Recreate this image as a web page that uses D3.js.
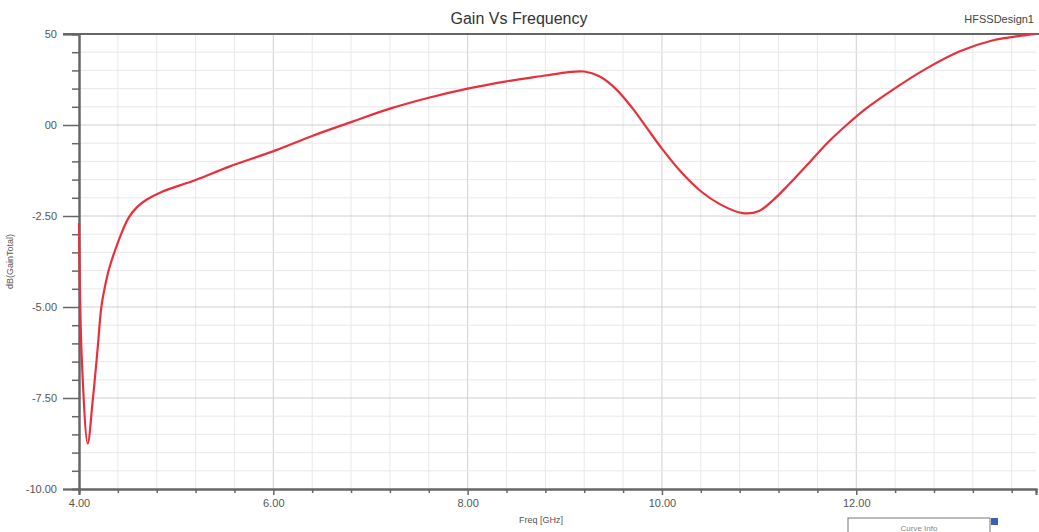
<!DOCTYPE html>
<html>
<head>
<meta charset="utf-8">
<script src="https://cdn.jsdelivr.net/npm/d3@7"></script>
<style>
  body { margin: 0; background: #fff; }
  text { font-family: "Liberation Sans", Arial, sans-serif; }
</style>
</head>
<body>
<div id="vis1"></div>
<script>
const width = 1039;
const height = 532;
const plotLeft = 79, plotRight = 1036, plotTop = 34, plotBottom = 489;

// curve values
const freq = [4.0, 4.03, 4.09, 4.14, 4.19, 4.23, 4.27, 4.31, 4.41, 4.51, 4.6, 4.69, 4.85, 5.2, 5.54, 6.03, 6.4, 6.8, 7.2, 7.6, 8.0, 8.4, 8.8, 9.0, 9.2, 9.36, 9.53, 9.7, 9.85, 10.0, 10.2, 10.4, 10.6, 10.83, 11.0, 11.15, 11.3, 11.5, 11.7, 11.9, 12.1, 12.37, 12.72, 13.06, 13.4, 13.75, 13.85];
const gain = [-2.7, -6.5, -8.75, -7.6, -6.2, -5.0, -4.4, -3.95, -3.16, -2.55, -2.25, -2.06, -1.84, -1.51, -1.15, -0.69, -0.3, 0.08, 0.45, 0.75, 1.0, 1.2, 1.36, 1.44, 1.47, 1.33, 0.98, 0.45, -0.1, -0.65, -1.3, -1.82, -2.18, -2.42, -2.36, -2.05, -1.65, -1.08, -0.5, 0.0, 0.45, 0.96, 1.55, 2.02, 2.32, 2.47, 2.5];

const xTicks = [4, 6, 8, 10, 12];
const xTickLabels = ["4.00", "6.00", "8.00", "10.00", "12.00"];
const yTicks = [2.5, 0, -2.5, -5, -7.5, -10];
const yTickLabels = ["50", "00", "-2.50", "-5.00", "-7.50", "-10.00"];

let svg = d3.select("#vis1")
    .append("svg")
    .attr("width", width)
    .attr("height", height)

//scales
let xScale = d3.scaleLinear().domain([4, 13.85]).range([plotLeft, plotRight]);
let yScale = d3.scaleLinear().domain([-10, 2.5]).range([plotBottom, plotTop]);

let xMinor = d3.range(4.4, 13.85, 0.4);
let yMinor = d3.range(-9.5, 2.5, 0.5);
const isMajorX = d => Math.abs(d - Math.round(d)) < 0.01 && Math.round(d) % 2 === 0;
const isMajorY = d => Math.abs(d % 2.5) < 0.01;

//grid
svg.append("g").selectAll("line")
    .data(xMinor)
    .enter().append("line")
    .attr("x1", d => xScale(d)).attr("x2", d => xScale(d))
    .attr("y1", plotTop).attr("y2", plotBottom)
    .attr("stroke", d => isMajorX(d) ? "#cfcfcf" : "#e8e8e8")
    .attr("stroke-width", 1);

svg.append("g").selectAll("line")
    .data(yMinor)
    .enter().append("line")
    .attr("x1", plotLeft).attr("x2", plotRight)
    .attr("y1", d => yScale(d)).attr("y2", d => yScale(d))
    .attr("stroke", d => isMajorY(d) ? "#cfcfcf" : "#e8e8e8")
    .attr("stroke-width", 1);

//top border
svg.append("line")
    .attr("x1", plotLeft - 16).attr("x2", width)
    .attr("y1", plotTop).attr("y2", plotTop)
    .attr("stroke", "#666").attr("stroke-width", 2);

//Y axis
let yAxis = svg.append("g")
    .attr("transform", "translate(" + plotLeft + ",0)")
    .call(d3.axisLeft(yScale).tickValues(yTicks).tickSize(16).tickFormat((d, i) => yTickLabels[i]));
svg.append("g")
    .attr("transform", "translate(" + plotLeft + ",0)")
    .call(d3.axisLeft(yScale).tickValues(yMinor.filter(d => !isMajorY(d))).tickSize(7).tickFormat(""));

//X axis
let xAxis = svg.append("g")
    .attr("transform", "translate(0," + plotBottom + ")")
    .call(d3.axisBottom(xScale).tickValues(xTicks).tickSize(6).tickFormat((d, i) => xTickLabels[i]));
svg.append("g")
    .attr("transform", "translate(0," + plotBottom + ")")
    .call(d3.axisBottom(xScale).tickValues(xMinor.filter(d => !isMajorX(d))).tickSize(4).tickFormat(""));

svg.selectAll(".domain").attr("stroke", "#666").attr("stroke-width", 2);
svg.selectAll(".tick line").attr("stroke", "#666").attr("stroke-width", 1.5);
svg.selectAll(".tick text")
    .attr("fill", "#555")
    .style("font-size", "11px");
yAxis.selectAll(".tick text").attr("x", -22).attr("dy", "0.35em");
xAxis.selectAll(".tick text").attr("y", 10);

//curve
let data = freq.map((f, i) => ({ f: f, g: gain[i] }));
svg.append("path")
    .datum(data)
    .attr("fill", "none")
    .attr("stroke", "#e8303c")
    .attr("stroke-width", 2.2)
    .attr("d", d3.line().x(d => xScale(d.f)).y(d => yScale(d.g)).curve(d3.curveCatmullRom.alpha(0.5)));

//texts
svg.append("text")
    .attr("x", 519).attr("y", 24)
    .attr("text-anchor", "middle")
    .attr("fill", "#333")
    .style("font-size", "16px")
    .text("Gain Vs Frequency");

svg.append("text")
    .attr("x", 1034).attr("y", 23)
    .attr("text-anchor", "end")
    .attr("fill", "#444")
    .style("font-size", "11px")
    .text("HFSSDesign1");

svg.append("text")
    .attr("transform", "translate(13," + ((plotTop + plotBottom) / 2) + ") rotate(-90)")
    .attr("text-anchor", "middle")
    .attr("fill", "#555")
    .style("font-size", "9px")
    .text("dB(GainTotal)");

svg.append("text")
    .attr("x", 541).attr("y", 523)
    .attr("text-anchor", "middle")
    .attr("fill", "#555")
    .style("font-size", "9px")
    .text("Freq [GHz]");

//legend box (cut off at the bottom)
svg.append("rect")
    .attr("x", 848).attr("y", 518)
    .attr("width", 142).attr("height", 20)
    .attr("fill", "#fff")
    .attr("stroke", "#777");
svg.append("text")
    .attr("x", 919).attr("y", 531)
    .attr("text-anchor", "middle")
    .attr("fill", "#888")
    .style("font-size", "8px")
    .text("Curve Info");
svg.append("rect")
    .attr("x", 991).attr("y", 518)
    .attr("width", 7).attr("height", 7)
    .attr("fill", "#3a5fb8");
</script>
</body>
</html>
